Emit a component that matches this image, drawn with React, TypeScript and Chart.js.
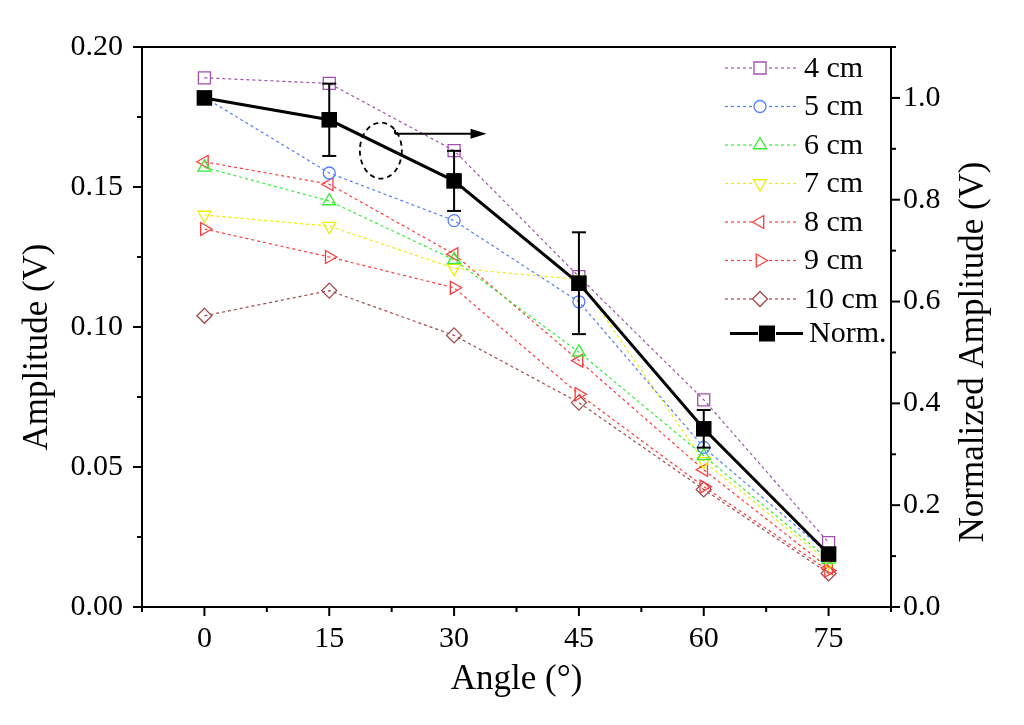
import { useEffect, useRef } from "react"
import { Chart, registerables } from "chart.js"
import { drawPoint } from "chart.js/helpers"

Chart.register(...registerables)

// angle (deg) on the x axis
const angles = [0, 15, 30, 45, 60, 75]

// amplitude (V) per distance, left axis
const amp4cm = [0.189, 0.187, 0.163, 0.118, 0.074, 0.023]
const amp5cm = [0.182, 0.155, 0.138, 0.109, 0.057, 0.019]
const amp6cm = [0.157, 0.145, 0.124, 0.091, 0.054, 0.017]
const amp7cm = [0.14, 0.136, 0.121, 0.117, 0.052, 0.016]
const amp8cm = [0.159, 0.151, 0.126, 0.088, 0.049, 0.014]
const amp9cm = [0.135, 0.125, 0.114, 0.076, 0.043, 0.013]
const amp10cm = [0.104, 0.113, 0.097, 0.073, 0.042, 0.012]

// normalized amplitude, right axis
const normAmp = [1.0, 0.957, 0.837, 0.636, 0.35, 0.104]
const normErr = [0, 0.071, 0.059, 0.1, 0.037, 0]

// tick labels
const xTicks = [0, 15, 30, 45, 60, 75]
const yTicks = [0, 0.05, 0.1, 0.15, 0.2]
const y2Ticks = [0, 0.2, 0.4, 0.6, 0.8, 1.0]

const FONT = "'Liberation Serif', 'Times New Roman', serif"

type Series = {
  label: string
  values: number[]
  color: string
  style: "rect" | "circle" | "triangle" | "rectRot"
  rotation: number
  radius: number
}

const series: Series[] = [
  { label: "4 cm", values: amp4cm, color: "#a050b0", style: "rect", rotation: 0, radius: 8.5 },
  { label: "5 cm", values: amp5cm, color: "#4f7dff", style: "circle", rotation: 0, radius: 6 },
  { label: "6 cm", values: amp6cm, color: "#33ee33", style: "triangle", rotation: 0, radius: 7.5 },
  { label: "7 cm", values: amp7cm, color: "#eeee00", style: "triangle", rotation: 180, radius: 7.5 },
  { label: "8 cm", values: amp8cm, color: "#ff3b3b", style: "triangle", rotation: -90, radius: 7.5 },
  { label: "9 cm", values: amp9cm, color: "#ff3b3b", style: "triangle", rotation: 90, radius: 7.5 },
  { label: "10 cm", values: amp10cm, color: "#a04848", style: "rectRot", rotation: 0, radius: 7.5 },
]

const frame = {
  id: "frame",
  afterDraw(chart: any) {
    const { ctx, chartArea: a, scales } = chart
    const x = scales.x
    const y = scales.y
    const y2 = scales.y2
    ctx.save()
    ctx.strokeStyle = "#000"
    ctx.lineWidth = 2
    // box
    ctx.strokeRect(a.left, a.top, a.right - a.left, a.bottom - a.top)

    // tick marks, outward
    const tick = (x1: number, y1: number, x2: number, y2p: number) => {
      ctx.beginPath()
      ctx.moveTo(x1, y1)
      ctx.lineTo(x2, y2p)
      ctx.stroke()
    }
    for (let v = -7.5; v <= 82.5 + 1e-6; v += 7.5) {
      const px = x.getPixelForValue(v)
      const major = xTicks.includes(v)
      tick(px, a.bottom, px, a.bottom + (major ? 9 : 5))
    }
    for (let v = 0; v <= 0.2 + 1e-6; v += 0.025) {
      const py = y.getPixelForValue(v)
      const major = Math.abs(v / 0.05 - Math.round(v / 0.05)) < 1e-6
      tick(a.left, py, a.left - (major ? 9 : 5), py)
    }
    for (let v = 0; v <= 1.1 + 1e-6; v += 0.1) {
      const py = y2.getPixelForValue(v)
      const major = Math.abs(v / 0.2 - Math.round(v / 0.2)) < 1e-6
      tick(a.right, py, a.right + (major ? 9 : 5), py)
    }

    // error bars on the normalized series
    ctx.lineWidth = 2
    angles.forEach((ang, i) => {
      if (!normErr[i]) return
      const px = x.getPixelForValue(ang)
      const top = y2.getPixelForValue(normAmp[i] + normErr[i])
      const bot = y2.getPixelForValue(normAmp[i] - normErr[i])
      tick(px, top, px, bot)
      tick(px - 7, top, px + 7, top)
      tick(px - 7, bot, px + 7, bot)
    })

    // dashed ellipse + arrow pointing to the right axis
    const ex = x.getPixelForValue(21.2)
    const ey = y.getPixelForValue(0.163)
    ctx.setLineDash([5, 4])
    ctx.lineWidth = 1.8
    ctx.beginPath()
    ctx.ellipse(ex, ey, 21, 28, 0, 0, Math.PI * 2)
    ctx.stroke()
    ctx.setLineDash([])
    const ax1 = x.getPixelForValue(22.9)
    const ax2 = x.getPixelForValue(33.9)
    const ay = y.getPixelForValue(0.169)
    ctx.lineWidth = 2
    tick(ax1, ay - 4, ax1, ay)
    tick(ax1, ay, ax2 - 12, ay)
    ctx.fillStyle = "#000"
    ctx.beginPath()
    ctx.moveTo(ax2, ay)
    ctx.lineTo(ax2 - 16, ay - 5)
    ctx.lineTo(ax2 - 16, ay + 5)
    ctx.closePath()
    ctx.fill()

    // axis titles
    ctx.fillStyle = "#000"
    ctx.font = `35px ${FONT}`
    ctx.textAlign = "center"
    ctx.textBaseline = "middle"
    ctx.fillText("Angle (\u00b0)", (a.left + a.right) / 2, 680)
    ctx.save()
    ctx.translate(38, 347)
    ctx.rotate(-Math.PI / 2)
    ctx.fillText("Amplitude (V)", 0, 0)
    ctx.restore()
    ctx.save()
    ctx.translate(974, 352)
    ctx.rotate(-Math.PI / 2)
    ctx.fillText("Normalized Amplitude (V)", 0, 0)
    ctx.restore()

    // legend
    ctx.font = `30px ${FONT}`
    ctx.textAlign = "left"
    const rowH = 38.5
    series.forEach((s, i) => {
      const ry = a.top + 21 + i * rowH
      ctx.strokeStyle = s.color
      ctx.lineWidth = 1.2
      ctx.setLineDash([3, 3])
      tick(725, ry, 752, ry)
      tick(769, ry, 798, ry)
      ctx.setLineDash([])
      ctx.fillStyle = "#fff"
      ctx.lineWidth = 1.3
      drawPoint(
        ctx,
        { pointStyle: s.style, rotation: s.rotation, radius: s.radius, borderWidth: 1.3 } as any,
        760,
        ry
      )
      ctx.fillStyle = "#000"
      ctx.fillText(s.label, 804, ry + 1)
    })
    const ny = a.top + 21 + series.length * rowH - 4
    ctx.strokeStyle = "#000"
    ctx.lineWidth = 3
    tick(730, ny, 758, ny)
    tick(776, ny, 803, ny)
    ctx.fillStyle = "#000"
    ctx.fillRect(759, ny - 8, 16, 16)
    ctx.fillText("Norm.", 809, ny + 1)
    ctx.restore()
  },
}

export default function App() {
  const chartRef = useRef<HTMLCanvasElement>(null)
  const chartInstance = useRef<Chart | null>(null)

  useEffect(() => {
    if (!chartRef.current) return
    document.body.style.margin = "0"
    if (chartInstance.current) chartInstance.current.destroy()
    const ctx = chartRef.current.getContext("2d")
    if (!ctx) return

    Chart.defaults.font.family = FONT
    Chart.defaults.color = "#000"

    const datasets: any[] = series.map((s) => ({
      label: s.label,
      data: angles.map((a, i) => ({ x: a, y: s.values[i] })),
      yAxisID: "y",
      borderColor: s.color,
      borderWidth: 1.2,
      borderDash: [3, 3],
      pointStyle: s.style,
      pointRotation: s.rotation,
      pointRadius: s.radius,
      pointBorderWidth: 1.3,
      pointBorderColor: s.color,
      pointBackgroundColor: "rgba(255,255,255,0)",
      tension: 0,
    }))
    datasets.push({
      label: "Norm.",
      data: angles.map((a, i) => ({ x: a, y: normAmp[i] })),
      yAxisID: "y2",
      order: -1,
      borderColor: "#000",
      borderWidth: 3,
      pointStyle: "rect",
      pointRadius: 11,
      pointBorderWidth: 0,
      pointBackgroundColor: "#000",
      tension: 0,
    })

    chartInstance.current = new Chart(ctx, {
      type: "line",
      data: { datasets },
      plugins: [frame],
      options: {
        responsive: false,
        animation: false,
        layout: { padding: { top: 47, left: 0, right: 0, bottom: 0 } },
        plugins: {
          legend: { display: false },
          tooltip: { enabled: false },
        },
        scales: {
          x: {
            type: "linear",
            min: -7.5,
            max: 82.5,
            afterBuildTicks: (s: any) => {
              s.ticks = xTicks.map((v) => ({ value: v }))
            },
            afterFit: (s: any) => {
              s.height = 118
            },
            grid: { display: false, drawTicks: false },
            border: { display: false },
            ticks: { font: { size: 30 }, padding: 14, maxRotation: 0 },
          },
          y: {
            type: "linear",
            position: "left",
            min: 0,
            max: 0.2,
            afterBuildTicks: (s: any) => {
              s.ticks = yTicks.map((v) => ({ value: v }))
            },
            afterFit: (s: any) => {
              s.width = 142
            },
            grid: { display: false, drawTicks: false },
            border: { display: false },
            ticks: {
              font: { size: 30 },
              padding: 19,
              callback: (v: any) => Number(v).toFixed(2),
            },
          },
          y2: {
            type: "linear",
            position: "right",
            min: 0,
            max: 1.1,
            afterBuildTicks: (s: any) => {
              s.ticks = y2Ticks.map((v) => ({ value: v }))
            },
            afterFit: (s: any) => {
              s.width = 133
            },
            grid: { display: false, drawTicks: false },
            border: { display: false },
            ticks: {
              font: { size: 30 },
              padding: 12,
              callback: (v: any) => Number(v).toFixed(1),
            },
          },
        },
      },
    })

    return () => {
      if (chartInstance.current) {
        chartInstance.current.destroy()
        chartInstance.current = null
      }
    }
  }, [])

  return (
    <div style={{ width: 1024, height: 725, background: "#fff" }}>
      <canvas ref={chartRef} width={1024} height={725} />
    </div>
  )
}
